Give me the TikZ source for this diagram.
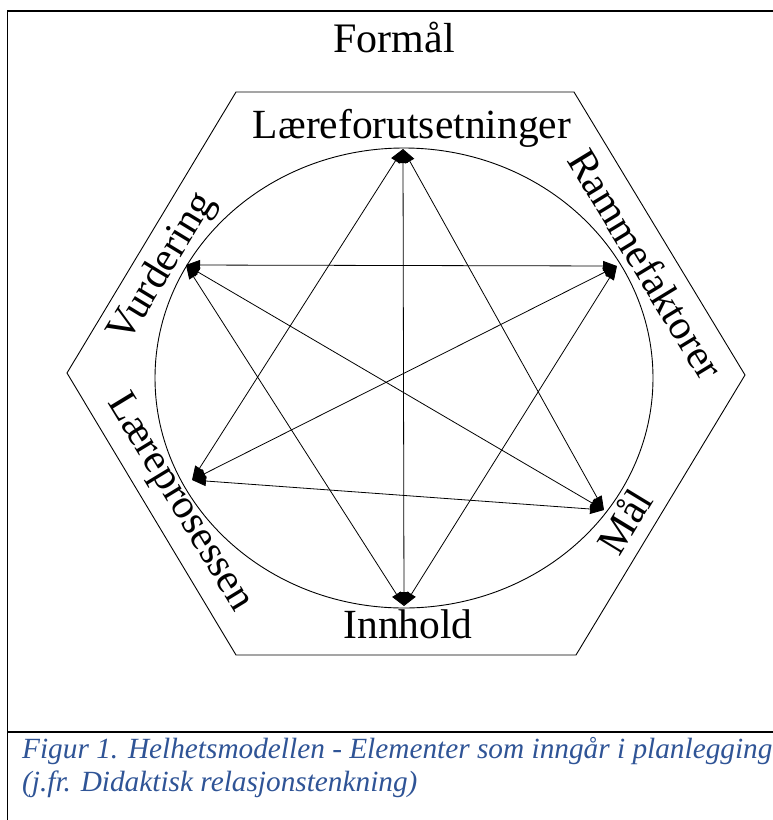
\documentclass[tikz,border=0pt]{standalone}
\usepackage{fontspec}
\setmainfont{Liberation Serif}
\usetikzlibrary{arrows.meta}
\definecolor{capblue}{HTML}{2F5496}
\begin{document}
\begin{tikzpicture}[x=1pt,y=-1pt,
  lbl/.style={font=\fontsize{41.5}{41.5}\selectfont, inner sep=0pt},
  link/.style={{Triangle[length=14pt,width=10pt]}-{Triangle[length=14pt,width=10pt]}, line width=0.8pt},
  thinline/.style={line width=0.9pt},
  framebox/.style={line width=1.8pt},
  captext/.style={font=\fontsize{29.3}{29.3}\selectfont\itshape, text=capblue, inner sep=0pt, anchor=base west}]
\useasboundingbox (0,0) rectangle (772,820);
% frame
\draw[framebox] (7.5,820) -- (7.5,11) -- (780,11);
\draw[framebox] (7.5,732) -- (780,732);
% hexagon and ellipse
\draw[thinline] (236,92) -- (574,92) -- (745,375) -- (576,655) -- (236,655) -- (67,373) -- cycle;
\draw[thinline] (404,378) ellipse [x radius=249pt, y radius=230pt];
% points on the ellipse
\coordinate (L) at (403,149);
\coordinate (R) at (617,266);
\coordinate (M) at (604,510);
\coordinate (I) at (404,606);
\coordinate (P) at (192,480);
\coordinate (V) at (186,265);
% connectors
\draw[link] (L) -- (I);
\draw[link] (L) -- (P);
\draw[link] (L) -- (M);
\draw[link] (V) -- (R);
\draw[link] (V) -- (M);
\draw[link] (V) -- (I);
\draw[link] (R) -- (P);
\draw[link] (R) -- (I);
\draw[link] (P) -- (M);
% labels
\node[font=\fontsize{42}{42}\selectfont, inner sep=0pt, anchor=base] (tF) at (394,52) {Formål};
\node[lbl, anchor=base] (tL) at (412,138) {Læreforutsetninger};
\node[lbl, anchor=base] (tI) at (408,638) {Innhold};
\node[lbl, rotate=58.7] (tV) at (163,268) {Vurdering};
\node[lbl, rotate=-58.7] (tR) at (646,264) {Rammefaktorer};
\node[lbl, rotate=-58.7] (tP) at (179,503) {Læreprosessen};
\node[lbl, rotate=58.7] (tM) at (624,521) {Mål};
% caption
\node[captext] (c1) at (22,758) {Figur 1. Helhetsmodellen - Elementer som inngår i planlegging};
\node[captext] (c2) at (22,791) {(j.fr. Didaktisk relasjonstenkning)};
\end{tikzpicture}
\end{document}
